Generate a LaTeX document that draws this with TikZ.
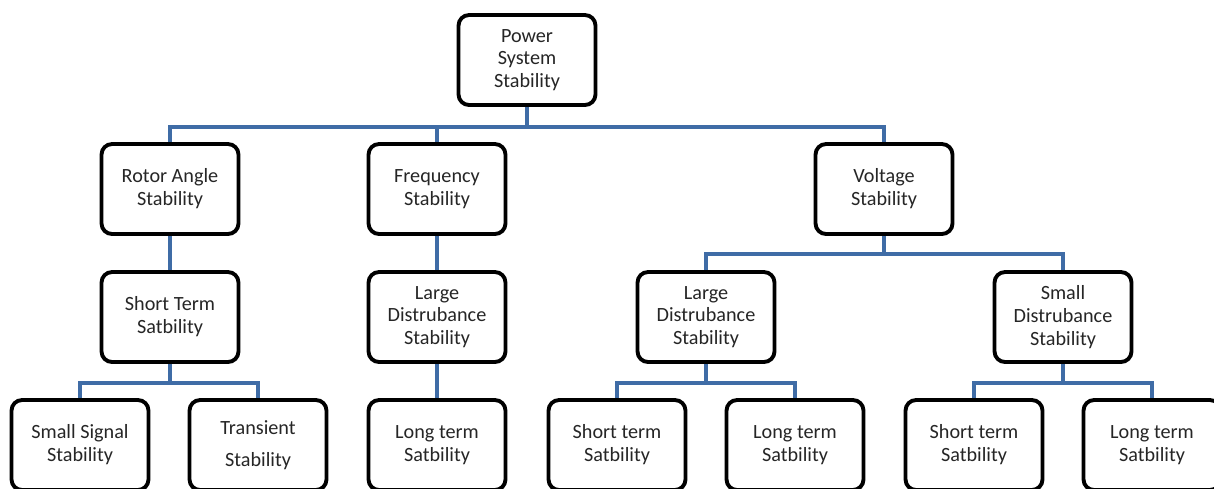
\documentclass[tikz,border=0pt]{standalone}
\usepackage{fontspec}
\setmainfont{Carlito}
\usetikzlibrary{backgrounds}

\definecolor{busblue}{HTML}{3F6CA6}

\tikzset{
    box/.style={draw=black, line width=2.2pt, rounded corners=6pt, fill=white,
        minimum width=2.74cm, minimum height=1.8cm, align=center,
        text=black!85, font=\fontsize{11.5}{13}\selectfont,
        execute at begin node={\rule{0pt}{11pt}}},
    conn/.style={draw=busblue, line width=2.6pt},
}

% parent to child, with the bus #3 px below the parent
\newcommand{\branch}[3]{\draw[conn] (#1.south) -- ++(0,#3) -| (#2.north);}

\begin{document}
\begin{tikzpicture}[x=0.02cm, y=-0.02cm]
        \useasboundingbox (0,0) rectangle (1214,488);
        \clip (0,0) rectangle (1214,488);

        % Top
        \node[box] (pss) at (527,60) {Power\\System\\Stability};

        % Level 1
        \node[box] (ras) at (170,189) {Rotor Angle\\Stability};
        \node[box] (fs)  at (437,189) {Frequency\\Stability};
        \node[box] (vs)  at (884,189) {Voltage\\Stability};

        % Level 2
        \node[box] (st)  at (170,317) {Short Term\\Satbility};
        \node[box] (fld) at (437,317) {Large\\Distrubance\\Stability};
        \node[box] (vld) at (706,317) {Large\\Distrubance\\Stability};
        \node[box] (vsd) at (1063,317) {Small\\Distrubance\\Stability};

        % Level 3
        \node[box] (ss)  at (80,445)   {Small Signal\\Stability};
        \node[box] (tr)  at (258,445)  {Transient\\[5pt]Stability};
        \node[box] (flt) at (437,445)  {Long term\\Satbility};
        \node[box] (vst) at (617,445)  {Short term\\Satbility};
        \node[box] (vlt) at (795,445)  {Long term\\Satbility};
        \node[box] (sst) at (974,445)  {Short term\\Satbility};
        \node[box] (slt) at (1152,445) {Long term\\Satbility};

        \begin{scope}[on background layer]
            \foreach \c in {ras,fs,vs}
                {\branch{pss}{\c}{20}}
            \branch{ras}{st}{18}
            \branch{fs}{fld}{18}
            \foreach \c in {vld,vsd}
                {\branch{vs}{\c}{18}}
            \foreach \c in {ss,tr}
                {\branch{st}{\c}{19}}
            \branch{fld}{flt}{19}
            \foreach \c in {vst,vlt}
                {\branch{vld}{\c}{19}}
            \foreach \c in {sst,slt}
                {\branch{vsd}{\c}{19}}
        \end{scope}
\end{tikzpicture}
\end{document}
